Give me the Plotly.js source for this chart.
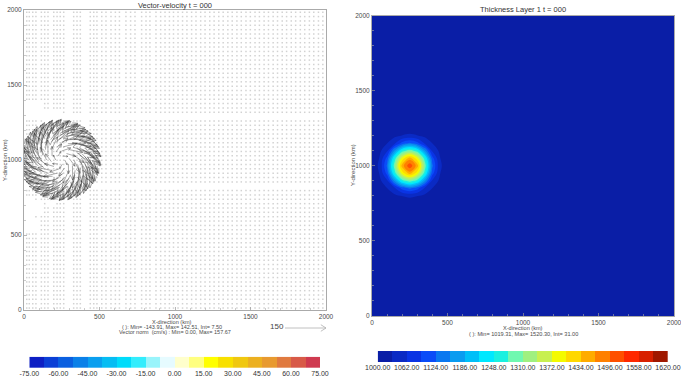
<!DOCTYPE html>
<html><head><meta charset="utf-8">
<script src="https://cdn.plot.ly/plotly-3.0.1.min.js"></script>
<style>html,body{margin:0;padding:0;background:#fff}#c{width:681px;height:381px}</style>
</head><body><div id="c"></div>
<script>
// ---- Data ----
const velocityLevels = [-75,-67.5,-60,-52.5,-45,-37.5,-30,-22.5,-15,-7.5,0,7.5,15,22.5,30,37.5,45,52.5,60,67.5,75];
const velocityColors = ['#0d1fc4','#0b3fd6','#0a5fe0','#0a80e8','#0a9fef','#06bdf3','#00dcfb','#33edfd','#99f4fb','#e6fbff','#ffffcc','#ffff80','#ffff00','#f8e000','#f0c810','#ecb020','#e89a30','#e07a40','#d85a48','#cf3a50'];
const velocityTicks = [-75,-60,-45,-30,-15,0,15,30,45,60,75];
const thicknessLevels = [1000,1031,1062,1093,1124,1155,1186,1217,1248,1279,1310,1341,1372,1403,1434,1465,1496,1527,1558,1589,1620];
const thicknessColors = ['#0a1ea6','#0a2ac4','#0a34e4','#0a4cf8','#0a78f0','#0a9cf0','#00bff8','#00e8ff','#1af0e0','#70f8b0','#a0f080','#c8f050','#f4fa00','#ffd800','#ffac00','#ff8000','#ff5000','#ff2800','#d82000','#a01800'];
const thicknessTicks = [1000,1062,1124,1186,1248,1310,1372,1434,1496,1558,1620];

const thickX = [0,50,100,150,200,250,300,350,400,450,500,2000];
const thickY = [0,750,800,850,900,950,1000,1050,1100,1150,1200,1250,2000];
const thickZ = [
 [1019,1019,1019,1019,1019,1019,1019,1019,1019,1019,1019,1019],
 [1019,1019,1019,1019,1019,1019,1019,1019,1019,1019,1019,1019],
 [1019,1019,1019,1024,1032,1035,1032,1024,1019,1019,1019,1019],
 [1019,1019,1030,1056,1105,1130,1105,1056,1030,1019,1019,1019],
 [1019,1024,1056,1160,1260,1300,1260,1160,1056,1024,1019,1019],
 [1019,1032,1105,1260,1385,1450,1385,1260,1105,1032,1019,1019],
 [1019,1035,1130,1300,1450,1520,1450,1300,1130,1035,1019,1019],
 [1019,1032,1105,1260,1385,1450,1385,1260,1105,1032,1019,1019],
 [1019,1024,1056,1160,1260,1300,1260,1160,1056,1024,1019,1019],
 [1019,1019,1030,1056,1105,1130,1105,1056,1030,1019,1019,1019],
 [1019,1019,1019,1024,1032,1035,1032,1024,1019,1019,1019,1019],
 [1019,1019,1019,1019,1019,1019,1019,1019,1019,1019,1019,1019],
 [1019,1019,1019,1019,1019,1019,1019,1019,1019,1019,1019,1019]];

const gridX = [18,35,58,79,115,137,159,197,219,240,263,329,351,373,439,462,483,515,543,576,605,632,675,706,735,779,808,834,874,905,934,963,990,1020,1050,1079,1110,1139,1170,1199,1230,1259,1290,1319,1350,1379,1410,1439,1470,1499,1530,1559,1590,1619,1650,1679,1710,1739,1770,1799,1830,1859,1890,1919,1950,1979];
const gridY = [1985,1956,1927,1898,1869,1840,1811,1782,1753,1724,1695,1666,1637,1608,1579,1550,1521,1492,1463,1434,1405,1376,1347,1318,1260,1231,1202,1173,1144,1115,1086,1057,1028,999,970,941,912,883,854,796,767,738,709,680,651,622,593,564,535,506,477,448,419,390,361,332,303,274,245,216,187,158,129,100,71,42,13];
const blankX0 = [5,130,5,60,5,150];
const blankX1 = [130,260,60,130,100,200];
const blankY0 = [1300,1240,620,640,520,700];
const blankY1 = [1400,1330,740,720,600,730];

const vortexX = 240, vortexY = 1000;
const ringRange = [30,60,90,120,135,150,165,180,195,210];
const ringSpeed = [20,36,52,66,72,78,76,72,64,56];
const ringBearings = [
 [0,60,120,180,240,300],
 [10,46,82,118,154,190,226,262,298,334],
 [0,26,51,77,103,129,154,180,206,231,257,283,309,334],
 [5,25,45,65,85,105,125,145,165,185,205,225,245,265,285,305,325,345],
 [15,35,55,75,95,115,135,155,175,195,215,235,255,275,295,315,335,355],
 [0,16,33,49,65,82,98,115,131,147,164,180,196,213,229,245,262,278,295,311,327,344],
 [8,25,41,57,74,90,107,123,139,156,172,188,205,221,237,254,270,287,303,319,336,352],
 [7,21,35,48,62,76,90,104,118,131,145,159,173,187,201,215,228,242,256,270,284,298,311,325,339,353],
 [14,28,42,55,69,83,97,111,125,138,152,166,180,194,208,222,235,249,263,277,291,305,318,332,346,0],
 [0,12,24,36,48,60,72,84,96,108,120,132,144,156,168,180,192,204,216,228,240,252,264,276,288,300,312,324,336,348]];
const spiralTurnDeg = 27;
const kmPerCms = 1.8;
const refSpeed = 150;

// ---- Layout helpers ----
const W = 681, H = 381;
const dx = (a,b)=>[a/W,b/W], dy = (top,bot)=>[1-bot/H,1-top/H];
const fam = '"Liberation Sans", Arial, sans-serif';
const ink = '#4a4a4a';
const stepped = (cols)=>{const s=[];cols.forEach((c,i)=>{s.push([i/cols.length,c]);s.push([(i+1)/cols.length,c]);});return s;};
const centres = (l)=>l.slice(0,-1).map((v,i)=>(v+l[i+1])/2);

// ---- Arrows ----
function addArrow(xs,ys,x,y,u,v,head){
  const len=Math.hypot(u,v), ang=Math.atan2(v,u);
  const tx=x+u, ty=y+v;
  xs.push(x,tx,null); ys.push(y,ty,null);
  [0.45,-0.45].forEach(a=>{
    xs.push(tx,tx-head*len*Math.cos(ang+a),null);
    ys.push(ty,ty-head*len*Math.sin(ang+a),null);
  });
}
const ax=[],ay=[];
const t=spiralTurnDeg*Math.PI/180;
ringRange.forEach((r,i)=>{
  ringBearings[i].forEach(d=>{
    const b=d*Math.PI/180, L=ringSpeed[i]*kmPerCms;
    const dirx=Math.cos(t)*Math.sin(b)+Math.sin(t)*Math.cos(b);
    const diry=-Math.cos(t)*Math.cos(b)+Math.sin(t)*Math.sin(b);
    addArrow(ax,ay,vortexX+r*Math.cos(b),vortexY+r*Math.sin(b),L*dirx,L*diry,0.36);
  });
});
const rx=[],ry=[];
addArrow(rx,ry,0,0,refSpeed*kmPerCms,0,0.14);

// ---- Background dots ----
const dotX=[],dotY=[];
gridY.forEach(y=>gridX.forEach(x=>{
  const blank=blankX0.some((x0,i)=>x>=x0&&x<=blankX1[i]&&y>=blankY0[i]&&y<=blankY1[i]);
  if(!blank){dotX.push(x);dotY.push(y);}
}));

const traces=[
 {type:'scatter',mode:'markers',x:dotX,y:dotY,xaxis:'x',yaxis:'y',hoverinfo:'skip',
  marker:{symbol:'square',size:1.5,color:'#d2d2d2',line:{width:0}}},
 {type:'scatter',mode:'lines',x:ax,y:ay,xaxis:'x',yaxis:'y',hoverinfo:'skip',
  line:{color:'#303030',width:0.4}},
 {type:'scatter',mode:'lines',x:rx,y:ry,xaxis:'x5',yaxis:'y5',hoverinfo:'skip',cliponaxis:false,
  line:{color:'#b0b0b0',width:0.8}},
 {type:'contour',x:thickX,y:thickY,z:thickZ,xaxis:'x2',yaxis:'y2',showscale:false,hoverinfo:'skip',
  zmin:1000,zmax:1620,colorscale:stepped(thicknessColors),autocontour:false,
  contours:{start:1000,end:1620,size:31,coloring:'fill',showlines:false},line:{width:0}},
 {type:'heatmap',x:velocityLevels,y:[0,1],z:[centres(velocityLevels)],xaxis:'x3',yaxis:'y3',showscale:false,hoverinfo:'skip',
  zmin:-75,zmax:75,colorscale:stepped(velocityColors)},
 {type:'heatmap',x:thicknessLevels,y:[0,1],z:[centres(thicknessLevels)],xaxis:'x4',yaxis:'y4',showscale:false,hoverinfo:'skip',
  zmin:1000,zmax:1620,colorscale:stepped(thicknessColors)}
];

const mainAxis=(dom,anchor)=>({domain:dom,anchor:anchor,range:[0,2000],tick0:0,dtick:500,ticks:'inside',ticklen:3,tickcolor:'#999',tickwidth:0.7,
  minor:{dtick:100,ticks:'inside',ticklen:2,tickcolor:'#aaa',tickwidth:0.6,showgrid:false},
  showline:true,linecolor:'#aaa',linewidth:1,mirror:true,showgrid:false,zeroline:false,ticklabeloverflow:'allow',
  tickfont:{family:fam,size:6.5,color:ink}});
const barX=(dom,anchor,lv,ticks)=>({domain:dom,anchor:anchor,range:[lv[0],lv[lv.length-1]],tickmode:'array',tickvals:ticks,ticktext:ticks.map(v=>v.toFixed(2)),
  tickangle:0,ticks:'',showline:false,showgrid:false,zeroline:false,ticklabeloverflow:'allow',tickfont:{family:fam,size:7,color:'#333'}});
const barY=(dom,anchor)=>({domain:dom,anchor:anchor,range:[0,1],visible:false});

const note=(px,py,text,size,angle,color)=>({xref:'paper',yref:'paper',x:px/W,y:1-py/H,xanchor:'center',yanchor:'middle',text:text,showarrow:false,textangle:angle||0,
  font:{family:fam,size:size,color:color||ink}});

const layout={
 width:W,height:H,margin:{l:0,r:0,t:0,b:0},paper_bgcolor:'#fff',plot_bgcolor:'#fff',showlegend:false,
 xaxis:mainAxis(dx(24,326),'y'),yaxis:mainAxis(dy(10,310),'x'),
 xaxis2:mainAxis(dx(372,674),'y2'),yaxis2:mainAxis(dy(15.5,316),'x2'),
 xaxis3:barX(dx(29.3,320),'y3',velocityLevels,velocityTicks),yaxis3:barY(dy(356.7,368),'x3'),
 xaxis4:barX(dx(377.7,668),'y4',thicknessLevels,thicknessTicks),yaxis4:barY(dy(351,362),'x4'),
 xaxis5:{domain:dx(285,326),anchor:'y5',range:[0,refSpeed*kmPerCms],visible:false},
 yaxis5:{domain:dy(322,334),anchor:'x5',range:[-30,30],visible:false},
 annotations:[
  note(175,5,'Vector-velocity t = 000',7.5,0,'#333'),
  note(523,9.5,'Thickness Layer 1 t = 000',7.5,0,'#333'),
  note(172,321.5,'X-direction (km)',5.6),
  note(172,327.2,'( ): Min= -143.91, Max= 142.51, Int= 7.50',5.5),
  note(175,332.2,'Vector norm  (cm/s) : Min= 0.00, Max= 157.67',5.5),
  note(523,327.5,'X-direction (km)',5.6),
  note(523,333.5,'( ): Min= 1019.31, Max= 1520.30, Int= 31.00',5.6),
  note(5,160,'Y-direction (km)',6,-90),
  note(353,165,'Y-direction (km)',6,-90),
  note(277,326,'150',8,0,'#444')
 ]
};
Plotly.newPlot('c',traces,layout,{staticPlot:true,displayModeBar:false});
</script></body></html>
